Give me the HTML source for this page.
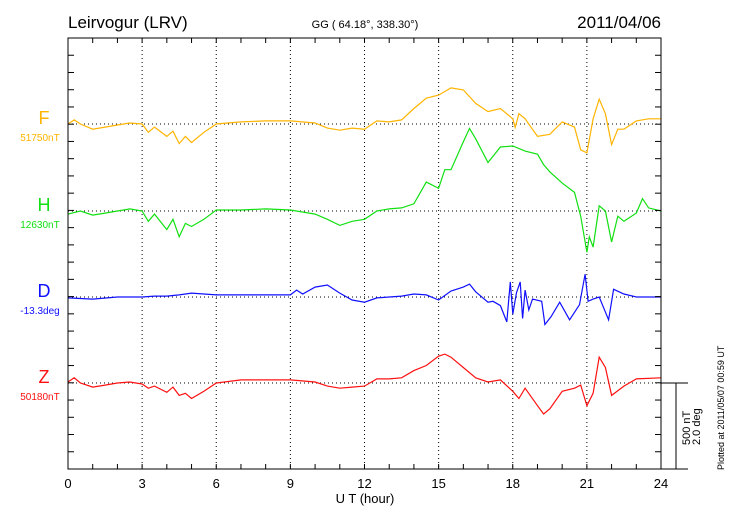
<!DOCTYPE html>
<html><head><meta charset="utf-8"><style>
body{margin:0;background:#fff;}
svg{display:block;font-family:"Liberation Sans",sans-serif;}
</style></head><body>
<svg id="chart" width="730" height="520" viewBox="0 0 730 520" xmlns="http://www.w3.org/2000/svg">
<text x="68" y="28" font-size="17">Leirvogur (LRV)</text>
<text x="365" y="28" font-size="11" text-anchor="middle">GG ( 64.18°, 338.30°)</text>
<text x="661" y="28" font-size="17" text-anchor="end">2011/04/06</text>
<g id="grid"></g>
<g id="series"></g>
<rect x="68" y="38" width="593" height="431" fill="none" stroke="#000" stroke-width="1"/>
<g id="axes"></g>
<text x="365" y="503" font-size="13" text-anchor="middle">U T (hour)</text>
<g stroke="#000" stroke-width="1" fill="none">
<line x1="661" y1="383" x2="688" y2="383"/><line x1="676" y1="383" x2="676" y2="469"/><line x1="661" y1="469" x2="688" y2="469"/>
</g>
<text transform="translate(690,445) rotate(-90)" font-size="11" text-anchor="start"><tspan x="0" y="0">500 nT</tspan><tspan x="0" y="10">2.0 deg</tspan></text>
<text transform="translate(724,470) rotate(-90)" font-size="9" text-anchor="start">Plotted at 2011/05/07 00:59 UT</text>
</svg>
<script>
// Data
const hoursF=[0,0.25,0.5,1,1.5,2,2.5,3,3.25,3.5,4,4.25,4.5,4.75,5,5.5,6,7,8,9,10,10.5,11,11.5,12,12.5,13,13.5,14,14.5,15,15.5,16,16.5,17,17.5,17.75,18,18.1,18.25,18.5,19,19.5,20,20.5,20.75,21,21.25,21.5,21.75,22,22.25,22.5,23,23.5,24];
const valuesF=[0,24,0,-30,-18,-6,6,0,-48,-18,-72,-42,-114,-72,-108,-48,0,12,18,18,6,-24,-36,-24,-30,18,12,24,90,150,168,210,198,120,72,90,60,30,-20,60,30,-72,-60,12,-18,-150,-168,30,144,60,-120,-30,-30,18,30,30];
const hoursH=[0,0.5,1,1.5,2,2.5,3,3.25,3.5,4,4.25,4.5,4.75,5,5.5,6,7,8,9,10,10.5,11,11.5,12,12.5,13,13.5,14,14.5,15,15.25,15.5,16,16.25,16.5,17,17.5,18,18.5,19,19.25,19.5,20,20.5,20.75,21,21.1,21.25,21.5,21.75,22,22.25,22.5,23,23.25,23.5,24];
const valuesH=[-18,0,-24,-12,0,12,0,-60,-18,-108,-48,-150,-72,-90,-48,6,6,12,6,-18,-48,-84,-60,-48,0,12,18,42,168,132,240,240,402,480,420,282,372,378,348,330,270,228,162,108,-30,-240,-150,-210,30,0,-180,-30,-60,-12,72,18,0];
const hoursD=[0,1,2,3,3.5,4,4.5,5,6,7,8,9,9.25,9.5,10,10.5,11,11.5,12,12.5,13,13.5,14,14.5,15,15.5,16,16.25,16.5,17,17.2,17.5,17.76,17.9,18.0,18.15,18.3,18.4,18.5,18.65,18.8,19.17,19.3,19.55,19.9,20.3,20.7,20.93,21.05,21.25,21.5,21.88,22.08,22.5,23,24];
const valuesD=[-0.02,-0.05,0,0,0.02,0.02,0.05,0.09,0.05,0.05,0.05,0.05,0.16,0.07,0.23,0.28,0.09,-0.07,-0.12,-0.02,0,0.02,0.07,0.05,-0.07,0.14,0.23,0.3,0.12,-0.12,-0.1,-0.2,-0.58,0.35,-0.4,0.1,0.35,-0.5,0.16,-0.3,-0.05,-0.1,-0.64,-0.46,-0.12,-0.53,-0.18,0.53,-0.1,-0.05,0,-0.53,0.18,0.07,0,0];
const hoursZ=[0,0.25,0.5,1,1.5,2,2.5,3,3.25,3.5,4,4.25,4.5,4.75,5,5.5,6,7,8,9,10,10.5,11,11.5,12,12.5,13,13.5,14,14.5,15,15.25,15.5,16,16.5,17,17.5,18,18.25,18.5,19,19.25,19.5,20,20.5,20.75,21,21.25,21.5,21.75,22,22.5,23,24];
const valuesZ=[6,30,0,-24,-12,0,6,-6,-30,-18,-54,-24,-72,-60,-90,-48,0,18,18,18,6,-18,-30,-24,-18,24,24,30,72,102,156,168,150,90,30,6,18,-48,-90,-30,-132,-180,-150,-48,-30,-12,-132,-60,150,90,-72,-18,24,30];
const xTicks=[0,3,6,9,12,15,18,21,24];
const NS='http://www.w3.org/2000/svg';
const X0=68,X1=661,Y0=38,Y1=469;
const x=h=>X0+(X1-X0)*h/24;
const nt=(base,v)=>base-v*86/500;
const dg=(base,v)=>base-v*86/2.0;
function mk(tag,attrs,parent){const e=document.createElementNS(NS,tag);for(const k in attrs)e.setAttribute(k,attrs[k]);parent.appendChild(e);return e;}
const grid=document.getElementById('grid'),axes=document.getElementById('axes'),ser=document.getElementById('series');
xTicks.forEach(t=>{
  if(t>0&&t<24){const l=mk('line',{x1:x(t),y1:Y0,x2:x(t),y2:Y1,stroke:'#000','stroke-width':1,'stroke-dasharray':'1,3'},grid);
  
  }
  const tx=mk('text',{x:x(t),y:488,'font-size':13,'text-anchor':'middle'},axes);tx.textContent=t;
  
  
});
for(let h=1;h<24;h++){mk('line',{x1:x(h),y1:Y0,x2:x(h),y2:Y0+5,stroke:'#000'},axes);mk('line',{x1:x(h),y1:Y1,x2:x(h),y2:Y1-5,stroke:'#000'},axes);}
for(let i=1;i<25;i++){const y=Y0+i*86.2/5;mk('line',{x1:X0,y1:y,x2:X0+6,y2:y,stroke:'#000'},axes);mk('line',{x1:X1,y1:y,x2:X1-6,y2:y,stroke:'#000'},axes);}
const defs=[
 {n:'F',c:'#ffb400',base:124,hs:hoursF,vs:valuesF,f:nt,lab:'51750nT'},
 {n:'H',c:'#11e011',base:211,hs:hoursH,vs:valuesH,f:nt,lab:'12630nT'},
 {n:'D',c:'#1010ff',base:297,hs:hoursD,vs:valuesD,f:dg,lab:'-13.3deg'},
 {n:'Z',c:'#ff1010',base:383,hs:hoursZ,vs:valuesZ,f:nt,lab:'50180nT'}];
defs.forEach(s=>{
  const bl=mk('line',{x1:X0,y1:s.base,x2:X1,y2:s.base,stroke:'#000','stroke-dasharray':'1,3'},grid);
  
  
  const pts=s.hs.map((h,i)=>x(h).toFixed(1)+','+s.f(s.base,s.vs[i]).toFixed(1)).join(' ');
  const pl=mk('polyline',{points:pts,fill:'none',stroke:s.c,'stroke-width':1.2},ser);
  
  
  const t1=mk('text',{x:44,y:s.base,'font-size':18,'text-anchor':'middle',fill:s.c},axes);t1.textContent=s.n;
  
  
  const t2=mk('text',{x:40,y:s.base+17,'font-size':10,'text-anchor':'middle',fill:s.c},axes);t2.textContent=s.lab;
  
  
});
</script>
</body></html>
